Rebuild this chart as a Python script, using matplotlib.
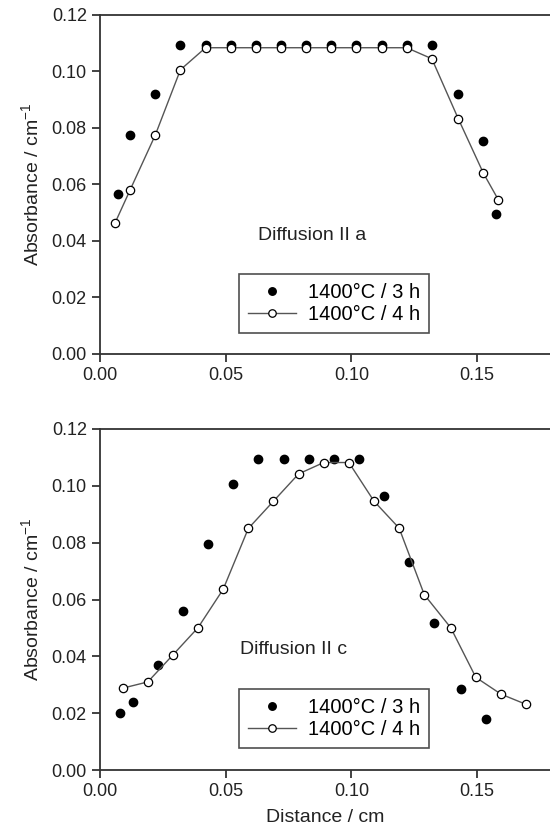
import matplotlib
matplotlib.use("Agg")
import matplotlib.pyplot as plt

plt.rcParams['font.family'] = ['Liberation Sans', 'DejaVu Sans']
plt.rcParams['mathtext.default'] = 'regular'

# Diffusion II a
a_x_3h = [0.007, 0.012, 0.022, 0.032, 0.042, 0.052, 0.062, 0.072, 0.082,
          0.092, 0.102, 0.112, 0.122, 0.132, 0.1425, 0.1525, 0.1575]
a_y_3h = [0.0565, 0.0775, 0.092, 0.1093, 0.1093, 0.1093, 0.1093, 0.1093, 0.1093,
          0.1093, 0.1093, 0.1093, 0.1093, 0.1093, 0.092, 0.0755, 0.0497]
a_x_4h = [0.006, 0.012, 0.022, 0.032, 0.042, 0.052, 0.062, 0.072, 0.082,
          0.092, 0.102, 0.112, 0.122, 0.132, 0.1425, 0.1525, 0.1585]
a_y_4h = [0.0464, 0.0581, 0.0775, 0.1006, 0.1084, 0.1084, 0.1084, 0.1084, 0.1084,
          0.1084, 0.1084, 0.1084, 0.1084, 0.1045, 0.0833, 0.0640, 0.0545]

# Diffusion II c
c_x_3h = [0.008, 0.013, 0.023, 0.033, 0.043, 0.053, 0.063, 0.073, 0.083,
          0.093, 0.103, 0.113, 0.123, 0.133, 0.1435, 0.1535]
c_y_3h = [0.0199, 0.0241, 0.0368, 0.0561, 0.0795, 0.1008, 0.1093, 0.1093, 0.1093,
          0.1093, 0.1093, 0.0965, 0.0731, 0.0519, 0.0284, 0.0178]
c_x_4h = [0.009, 0.019, 0.029, 0.039, 0.049, 0.059, 0.069, 0.079, 0.089,
          0.099, 0.109, 0.119, 0.129, 0.1395, 0.1495, 0.1595, 0.1695]
c_y_4h = [0.0288, 0.0310, 0.0405, 0.0501, 0.0636, 0.0850, 0.0946, 0.1042, 0.1082,
          0.1082, 0.0946, 0.0851, 0.0617, 0.0501, 0.0326, 0.0267, 0.0231]

labels = ['1400°C / 3 h', '1400°C / 4 h']
y_ticks = [0.00, 0.02, 0.04, 0.06, 0.08, 0.10, 0.12]
x_ticks = [0.00, 0.05, 0.10, 0.15]

fig = plt.figure(figsize=(5.5, 8.4), dpi=100)
ax1 = fig.add_axes([0.1818, 0.5786, 0.8182, 0.4036])
ax2 = fig.add_axes([0.1818, 0.0833, 0.8182, 0.4060])


def draw_panel(ax, x3, y3, x4, y4, note, note_x, note_y):
    ax.plot(x3, y3, 'o', color='black', markersize=6, label=labels[0], zorder=3)
    ax.plot(x4, y4, '-o', color='#555555', linewidth=1.0, markersize=6,
            markerfacecolor='white', markeredgecolor='black', markeredgewidth=0.9,
            label=labels[1], zorder=4)
    ax.set_xlim(0, 0.179)
    ax.set_ylim(0, 0.12)
    ax.set_xticks(x_ticks)
    ax.set_xticklabels(['%.2f' % t for t in x_ticks])
    ax.set_yticks(y_ticks)
    ax.set_yticklabels(['%.2f' % t for t in y_ticks])
    ax.tick_params(direction='out', length=6, width=1.2, labelsize=13, colors='#222222')
    for s in ['left', 'bottom', 'top']:
        ax.spines[s].set_linewidth(1.3)
        ax.spines[s].set_color('#333333')
    ax.spines['right'].set_visible(False)
    ax.set_ylabel('Absorbance / cm$^{-1}$', fontsize=14, color='#222222', labelpad=7)
    ax.text(note_x, note_y, note, fontsize=14, ha='center', va='center', color='#222222')
    leg = ax.legend(loc='center', bbox_to_anchor=(0.52, 0.15), fontsize=14.5,
                    frameon=True, fancybox=False, edgecolor='#222222',
                    handlelength=2.4, handletextpad=0.6, borderpad=0.45,
                    labelspacing=0.15, markerscale=0.9)
    leg.get_frame().set_linewidth(1.2)


draw_panel(ax1, a_x_3h, a_y_3h, a_x_4h, a_y_4h, 'Diffusion II a', 0.0844, 0.0421)
draw_panel(ax2, c_x_3h, c_y_3h, c_x_4h, c_y_4h, 'Diffusion II c', 0.0768, 0.0424)
ax2.set_xlabel('Distance / cm', fontsize=14, color='#222222', labelpad=6)

fig.savefig('out.png', dpi=100)
